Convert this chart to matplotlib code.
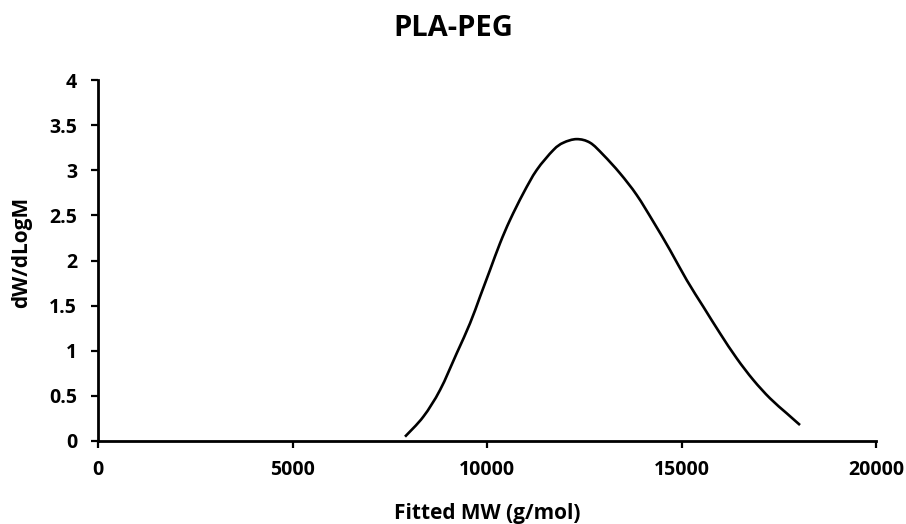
import matplotlib.pyplot as plt
from matplotlib.path import Path
from matplotlib.patches import PathPatch

# molecular weight distribution of PLA-PEG
mw = [7892, 8362, 8792, 9221, 9563, 9820, 10077, 10334, 10591, 10933, 11278,
      11705, 11962, 12306, 12650, 12990, 13419, 13848, 14275, 14704, 15134,
      15560, 15990, 16419, 16846, 17275, 17704, 18046]
dw = [0.048, 0.269, 0.565, 0.972, 1.304, 1.599, 1.895, 2.191, 2.449, 2.745, 3.003,
      3.224, 3.305, 3.345, 3.305, 3.170, 2.966, 2.726, 2.430, 2.116, 1.783,
      1.488, 1.193, 0.916, 0.676, 0.473, 0.307, 0.177]

xticks = [0, 5000, 10000, 15000, 20000]
yticks = [0, 0.5, 1, 1.5, 2, 2.5, 3, 3.5, 4]
ylabels = ['0', '0.5', '1', '1.5', '2', '2.5', '3', '3.5', '4']


def smooth_path(xs, ys):
    # spreadsheet-style smoothed line: cubic bezier through each point
    verts = [(xs[0], ys[0])]
    codes = [Path.MOVETO]
    n = len(xs)
    for i in range(n - 1):
        x0, y0 = xs[max(i - 1, 0)], ys[max(i - 1, 0)]
        x1, y1 = xs[i], ys[i]
        x2, y2 = xs[i + 1], ys[i + 1]
        x3, y3 = xs[min(i + 2, n - 1)], ys[min(i + 2, n - 1)]
        verts += [(x1 + (x2 - x0) / 6, y1 + (y2 - y0) / 6),
                  (x2 - (x3 - x1) / 6, y2 - (y3 - y1) / 6),
                  (x2, y2)]
        codes += [Path.CURVE4] * 3
    return Path(verts, codes)


plt.rcParams['font.family'] = ['Open Sans', 'DejaVu Sans']
plt.rcParams['font.weight'] = 'bold'

fig = plt.figure(figsize=(9.06, 5.24), dpi=100)
ax = fig.add_axes([0.1082, 0.1584, 0.8587, 0.6889])

ax.add_patch(PathPatch(smooth_path(mw, dw), fill=False, edgecolor='black',
                       lw=1.9, capstyle='butt', joinstyle='round'))

ax.set_xlim(0, 20000)
ax.set_ylim(0, 4)
ax.set_xticks(xticks)
ax.set_yticks(yticks)
ax.set_yticklabels(ylabels)

for s in ['top', 'right']:
    ax.spines[s].set_visible(False)
for s in ['left', 'bottom']:
    ax.spines[s].set_linewidth(2.0)
ax.tick_params(direction='out', length=5, width=1.6, labelsize=14)
ax.tick_params(axis='x', pad=9)
ax.tick_params(axis='y', pad=10)
for lbl in ax.get_xticklabels() + ax.get_yticklabels():
    lbl.set_fontweight('bold')

fig.text(0.5, 1 - 36 / 524, 'PLA-PEG', fontsize=21, fontweight='bold',
         ha='center', va='baseline')
fig.text(487 / 906, 1 - 519 / 524, 'Fitted MW (g/mol)', fontsize=15,
         fontweight='bold', ha='center', va='baseline')
fig.text(22 / 906, 1 - 252 / 524, 'dW/dLogM', fontsize=15, fontweight='bold',
         ha='center', va='center', rotation=90)

fig.savefig('out.png', dpi=100)
